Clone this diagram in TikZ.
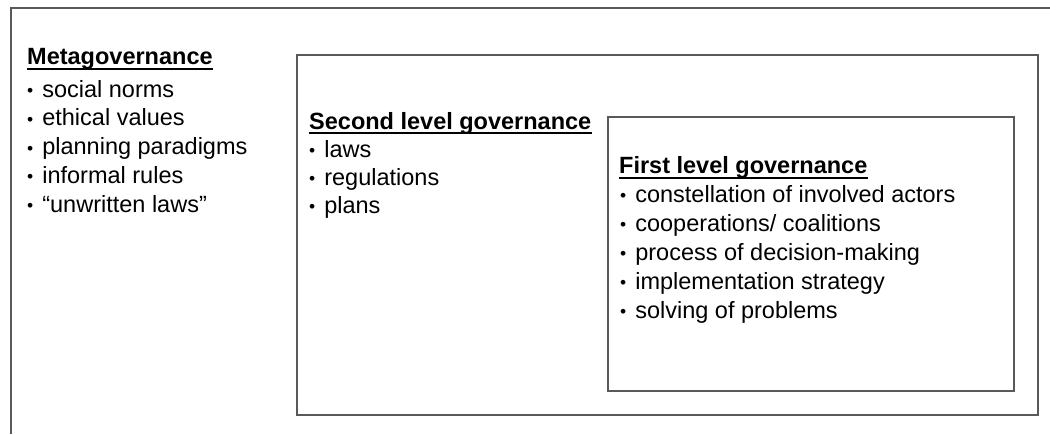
\documentclass[tikz,border=0pt]{standalone}
\usepackage{fontspec}
\setmainfont{Liberation Sans}
% small bullet in front of each list entry, centred on the x-height
\newcommand\listbullet{\raisebox{0.3pt}{\fontsize{17.5}{17.5}\selectfont •}\hspace{9pt}}
\begin{document}
\begin{tikzpicture}[x=1pt,y=-1pt,
  frame/.style={draw=black!65, line width=1.4pt},
  head/.style={anchor=base west, inner sep=0pt, font=\fontsize{23.5}{28}\selectfont\bfseries},
  item/.style={anchor=base west, inner sep=0pt, font=\fontsize{23.5}{28}\selectfont},
  uline/.style={line width=1.8pt}]
\useasboundingbox (0,0) rectangle (1050,434);

% nested frames: outer (open to the right and bottom), second level, first level
\draw[frame] (1050,8) -- (11,8) -- (11,434);
\draw[frame] (297,55) rectangle (1038,415);
\draw[frame] (608,117) rectangle (1014,391);

% Metagovernance
\node[head] (mh) at (27,64) {Metagovernance};
\draw[uline] ([yshift=-5pt]mh.base west) -- ([yshift=-5pt]mh.base east);
\foreach \t [count=\i] in {social norms, ethical values, planning paradigms, informal rules, “unwritten laws”}
  \node[item] (m\i) at (27,{97+28.75*(\i-1)}) {\listbullet\t};

% Second level governance
\node[head] (sh) at (309,129) {Second level governance};
\draw[uline] ([yshift=-4pt]sh.base west) -- ([yshift=-4pt]sh.base east);
\foreach \t [count=\i] in {laws, regulations, plans}
  \node[item] (s\i) at (309,{157+28*(\i-1)}) {\listbullet\t};

% First level governance
\node[head] (fh) at (619,173) {First level governance};
\draw[uline] ([yshift=-5pt]fh.base west) -- ([yshift=-5pt]fh.base east);
\foreach \t [count=\i] in {constellation of involved actors, cooperations/ coalitions, process of decision-making, implementation strategy, solving of problems}
  \node[item] (f\i) at (620,{202+29*(\i-1)}) {\listbullet\t};
\end{tikzpicture}
\end{document}
